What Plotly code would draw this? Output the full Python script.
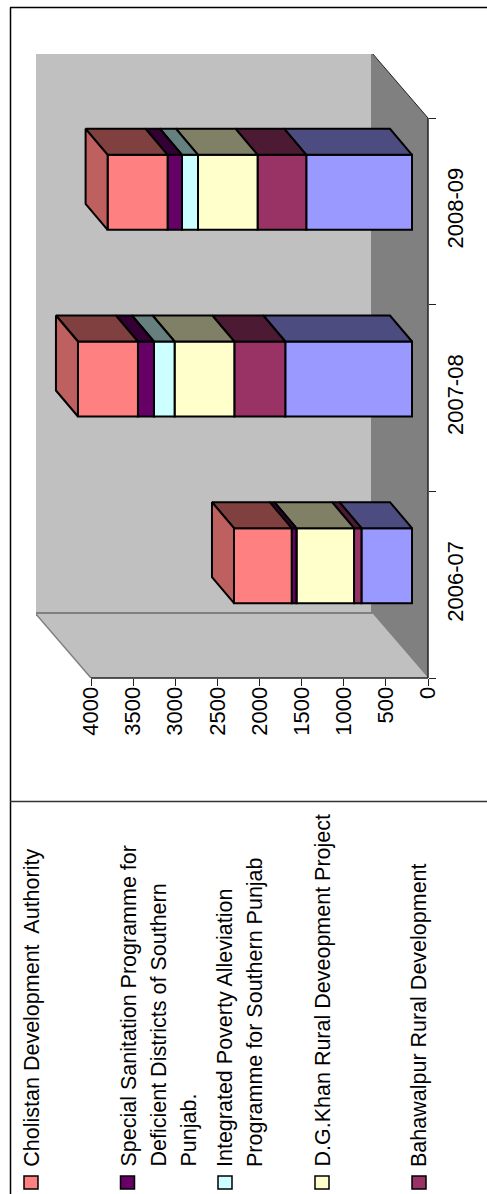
import plotly.graph_objects as go

# Programme spending by year, stacked from the base of each column upward
years = ["2006-07", "2007-08", "2008-09"]
series_names = [
    "Rural Development Programme",
    "Bahawalpur Rural Development",
    "D.G.Khan Rural Deveopment Project",
    "Integrated Poverty Alleviation Programme for Southern Punjab",
    "Special Sanitation Programme for Deficient Districts of Southern Punjab.",
    "Cholistan Development Authority",
]
rural_development = [600, 1504, 1255]
bahawalpur = [88, 605, 578]
dg_khan = [684, 709, 707]
poverty_alleviation = [0, 245, 190]
special_sanitation = [56, 190, 171]
cholistan = [685, 712, 712]
value_ticks = [0, 500, 1000, 1500, 2000, 2500, 3000, 3500, 4000]

series_values = [rural_development, bahawalpur, dg_khan,
                 poverty_alleviation, special_sanitation, cholistan]

front_colors = ["#9999FF", "#993366", "#FFFFCC", "#CCFFFF", "#660066", "#FF8080"]
top_colors = ["#4C4C80", "#4D1A33", "#808066", "#668080", "#330033", "#804040"]
side_color = "#BF6060"

# Figure geometry in pixels
WIDTH, HEIGHT = 487, 1194
PLOT_LEFT, PLOT_RIGHT, PLOT_TOP, PLOT_BOTTOM = 36, 428, 54, 678
PX_PER_VALUE = 337 / 4000
PX_PER_CATEGORY = 560 / 3


def depth_shift(dx_px, dy_px):
    """Oblique projection: a step into the chart moves left and up on the page."""
    return dx_px / PX_PER_VALUE, dy_px / PX_PER_CATEGORY


X_MAX = (PLOT_RIGHT - PLOT_LEFT) / PX_PER_VALUE
Y_MAX = (PLOT_BOTTOM - PLOT_TOP) / PX_PER_CATEGORY
WALL_X, WALL_Y = depth_shift(56, 65)
FRONT_X, FRONT_Y = depth_shift(16, 19)
BAR_X, BAR_Y = depth_shift(22, 26)
BAR_WIDTH = 0.402
EDGE = dict(color="black", width=2)


def polygon(xs, ys, fill, line_color=None, line_width=0):
    path = "M" + " L".join(f"{x},{y}" for x, y in zip(xs, ys)) + " Z"
    return dict(type="path", path=path, xref="x", yref="y", layer="below",
                fillcolor=fill,
                line=dict(color=line_color or fill, width=line_width))


def px_x(px):
    # paper coordinates are measured across the plot area
    return (px - PLOT_LEFT) / (PLOT_RIGHT - PLOT_LEFT)


def px_y(px):
    return (PLOT_BOTTOM - px) / (PLOT_BOTTOM - PLOT_TOP)


fig = go.Figure()

# Faces of the columns
for s, (name, values) in enumerate(zip(series_names, series_values)):
    bases = [sum(v[i] for v in series_values[:s]) + FRONT_X for i in range(3)]
    centers = [i + 0.5 + FRONT_Y for i in range(3)]
    fig.add_trace(go.Bar(
        orientation="h", name=name, x=values, y=centers, base=bases,
        width=BAR_WIDTH, marker=dict(color=front_colors[s], line=EDGE),
        showlegend=False, hoverinfo="skip",
    ))
    for i in range(3):
        if values[i] == 0:
            continue
        near, far = bases[i], bases[i] + values[i]
        top = centers[i] + BAR_WIDTH / 2
        fig.add_trace(go.Scatter(
            x=[near, far, far + BAR_X, near + BAR_X, near],
            y=[top, top, top + BAR_Y, top + BAR_Y, top],
            mode="lines", fill="toself", fillcolor=top_colors[s],
            line=EDGE, showlegend=False, hoverinfo="skip",
        ))

# End face on the top of each stack
for i in range(3):
    far = sum(v[i] for v in series_values) + FRONT_X
    low = i + 0.5 + FRONT_Y - BAR_WIDTH / 2
    high = low + BAR_WIDTH
    fig.add_trace(go.Scatter(
        x=[far, far + BAR_X, far + BAR_X, far, far],
        y=[low, low + BAR_Y, high + BAR_Y, high, low],
        mode="lines", fill="toself", fillcolor=side_color,
        line=EDGE, showlegend=False, hoverinfo="skip",
    ))

# Walls and floor of the 3-D box
shapes = [
    polygon([WALL_X, WALL_X + 4000, WALL_X + 4000, WALL_X],
            [WALL_Y, WALL_Y, WALL_Y + 3, WALL_Y + 3], "#C0C0C0", "#808080", 2),
    polygon([0, 4000, WALL_X + 4000, WALL_X],
            [0, 0, WALL_Y, WALL_Y], "#C0C0C0"),
    polygon([0, WALL_X, WALL_X, 0],
            [0, WALL_Y, WALL_Y + 3, 3], "#808080"),
]
for x0, y0, x1, y1, color, w in [
    (4000, 0, WALL_X + 4000, WALL_Y, "#808080", 1.5),
    (WALL_X, WALL_Y, WALL_X + 4000, WALL_Y, "#808080", 2),
    (0, 3, WALL_X, WALL_Y + 3, "#222222", 1),
]:
    shapes.append(dict(type="line", xref="x", yref="y", layer="below",
                       x0=x0, y0=y0, x1=x1, y1=y1,
                       line=dict(color=color, width=w)))

# Axis lines sit on the plot edge, so one coordinate stays in paper units to avoid clipping
axis_line = dict(color="#222222", width=1.5)
shapes += [
    dict(type="line", xref="x", yref="paper", x0=0, x1=4000, y0=0, y1=0, line=axis_line),
    dict(type="line", xref="paper", yref="y", x0=1, x1=1, y0=0, y1=3, line=axis_line),
]

# Chart frame and the divider above the legend
frame = dict(color="black", width=1.5)
shapes += [
    dict(type="line", xref="paper", yref="paper", x0=px_x(10.5), x1=px_x(10.5),
         y0=px_y(7.5), y1=px_y(HEIGHT), line=frame),
    dict(type="line", xref="paper", yref="paper", x0=px_x(10), x1=px_x(WIDTH),
         y0=px_y(7.5), y1=px_y(7.5), line=frame),
    dict(type="line", xref="paper", yref="paper", x0=px_x(10), x1=px_x(WIDTH),
         y0=px_y(801.5), y1=px_y(801.5), line=dict(color="#333333", width=1.5)),
]

# Legend, turned with the rest of the chart
FONT = "Liberation Sans, Arial, sans-serif"
legend_entries = [
    (31, "#FF8080", [(31.7, "Cholistan Development\u00a0 Authority")]),
    (127.5, "#660066", [(128, "Special Sanitation Programme for"),
                        (158, "Deficient Districts of Southern"),
                        (188, "Punjab.")]),
    (225, "#CCFFFF", [(225, "Integrated Poverty Alleviation"),
                      (255, "Programme for Southern Punjab")]),
    (322, "#FFFFCC", [(322, "D.G.Khan Rural Deveopment Project")]),
    (419, "#993366", [(419, "Bahawalpur Rural Development")]),
]
annotations = []
for swatch_x, color, lines in legend_entries:
    shapes.append(dict(type="rect", xref="paper", yref="paper",
                       x0=px_x(swatch_x - 7), x1=px_x(swatch_x + 7),
                       y0=px_y(1189), y1=px_y(1176), fillcolor=color,
                       line=dict(color="black", width=1.5)))
    for center, text in lines:
        annotations.append(dict(
            xref="paper", yref="paper", x=px_x(center), y=px_y(1168),
            xanchor="center", yanchor="bottom", text=text, textangle=-90,
            showarrow=False, borderpad=0,
            font=dict(family=FONT, size=21.5, color="black"),
        ))

fig.update_layout(
    width=WIDTH, height=HEIGHT, autosize=False,
    margin=dict(l=PLOT_LEFT, r=WIDTH - PLOT_RIGHT, t=PLOT_TOP,
                b=HEIGHT - PLOT_BOTTOM, pad=0),
    paper_bgcolor="white", plot_bgcolor="rgba(0,0,0,0)",
    barmode="overlay", showlegend=False,
    shapes=shapes, annotations=annotations,
    font=dict(family=FONT, size=22, color="black"),
    xaxis=dict(range=[X_MAX, 0], tickvals=value_ticks,
               ticktext=[str(v) for v in value_ticks], tickangle=-90,
               ticks="outside", ticklen=7, tickwidth=1, tickcolor="#222222",
               ticklabelstandoff=-8,
               showgrid=False, zeroline=False, showline=False,
               automargin=False),
    yaxis=dict(range=[0, Y_MAX], side="right", tickvals=[0.5, 1.5, 2.5],
               ticktext=years, tickangle=-90, ticks="", ticklabelstandoff=12,
               minor=dict(tickvals=[0, 1, 2, 3], ticks="outside", ticklen=7,
                          tickwidth=1, tickcolor="#222222", showgrid=False),
               showgrid=False, zeroline=False, showline=False,
               automargin=False),
)

fig.write_html("out.html", config=dict(displayModeBar=False))
